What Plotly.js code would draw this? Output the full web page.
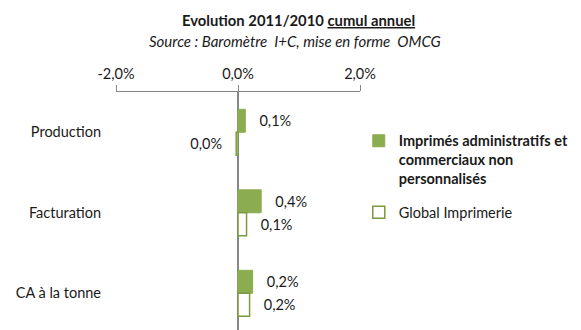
<!DOCTYPE html>
<html>
<head>
<meta charset="utf-8">
<script src="https://cdn.plot.ly/plotly-3.0.1.min.js"></script>
<style>html,body{margin:0;padding:0;background:#fff;}#chart{width:581px;height:330px;}</style>
</head>
<body>
<div id="chart"></div>
<script>
// ---- data ----
var categories = ['Production', 'Facturation', 'CA à la tonne'];
var seriesNames = [
  '<b>Imprimés administratifs et</b><br><b>commerciaux non</b><br><b>personnalisés</b>',
  'Global Imprimerie'
];
var valuesImprimes = [0.12, 0.38, 0.24];
var valuesGlobal = [-0.03, 0.14, 0.19];
var labelsImprimes = ['0,1%', '0,4%', '0,2%'];
var labelsGlobal = ['0,0%', '0,1%', '0,2%'];
var xTickVals = [-2, 0, 2];
var xTickText = ['-2,0%', '0,0%', '2,0%'];

// ---- styles ----
var FONT = 'Lato, "Open Sans", sans-serif';
var TXT = '#1a1a1a';
var GRAY = '#868686';
var GREEN = '#8BAD4F';
var GREEN_LINE = '#7A9C3E';
var PAD = '\u00a0\u00a0\u00a0';

function padLabels(labels, values) {
  return labels.map(function (l, i) { return values[i] < 0 ? l + PAD : PAD + l; });
}

var traces = [
  {
    type: 'bar', orientation: 'h',
    name: seriesNames[0], legendgroup: 'a',
    y: categories, x: valuesImprimes,
    text: padLabels(labelsImprimes, valuesImprimes),
    textposition: 'outside', constraintext: 'none', cliponaxis: false,
    outsidetextfont: {family: FONT, size: 14.5, color: TXT},
    marker: {color: GREEN, line: {color: GREEN, width: 1}},
    hoverinfo: 'skip'
  },
  {
    type: 'bar', orientation: 'h',
    name: seriesNames[1], legendgroup: 'b',
    y: categories, x: valuesGlobal,
    text: padLabels(labelsGlobal, valuesGlobal),
    textposition: 'outside', constraintext: 'none', cliponaxis: false,
    outsidetextfont: {family: FONT, size: 14.5, color: TXT},
    marker: {color: '#ffffff', line: {color: GREEN_LINE, width: 1.5}},
    hoverinfo: 'skip'
  }
];

var layout = {
  width: 581, height: 330,
  margin: {l: 116, r: 220.5, t: 92, b: 0, autoexpand: false},
  paper_bgcolor: '#ffffff', plot_bgcolor: '#ffffff',
  font: {family: FONT, size: 14.5, color: TXT},
  barmode: 'group', bargap: 0.43, bargroupgap: 0,
  showlegend: true,
  legend: {
    x: 0.995, y: 0.862, xanchor: 'left', yanchor: 'top',
    valign: 'top', tracegroupgap: 12, traceorder: 'grouped',
    font: {family: FONT, size: 14.5, color: TXT},
    bgcolor: 'rgba(0,0,0,0)', borderwidth: 0
  },
  xaxis: {
    side: 'top', range: [-2, 2], fixedrange: true,
    tickmode: 'array', tickvals: xTickVals, ticktext: xTickText,
    ticks: 'outside', ticklen: 6, tickwidth: 1, tickcolor: GRAY,
    showline: true, linecolor: GRAY, linewidth: 1,
    showgrid: false,
    zeroline: true, zerolinecolor: GRAY, zerolinewidth: 1.5,
    tickfont: {family: FONT, size: 14.5, color: TXT},
    automargin: false
  },
  yaxis: {
    type: 'category', range: [2.456, -0.5], fixedrange: true,
    showline: false, showgrid: false, zeroline: false,
    ticks: '', ticklabelstandoff: 14,
    tickfont: {family: FONT, size: 14.5, color: TXT},
    automargin: false
  },
  annotations: [
    {
      xref: 'paper', yref: 'paper', x: 0.746, y: 1.303,
      xanchor: 'center', yanchor: 'middle', showarrow: false,
      text: '<b>Evolution 2011/2010 <u>cumul annuel</u></b>',
      font: {family: FONT, size: 14.8, color: TXT}
    },
    {
      xref: 'paper', yref: 'paper', x: 0.734, y: 1.216,
      xanchor: 'center', yanchor: 'middle', showarrow: false,
      text: '<i>Source : Baromètre  I+C, mise en forme  OMCG</i>',
      font: {family: FONT, size: 15, color: TXT}
    }
  ]
};

Plotly.newPlot('chart', traces, layout, {staticPlot: true, displayModeBar: false});
</script>
</body>
</html>
